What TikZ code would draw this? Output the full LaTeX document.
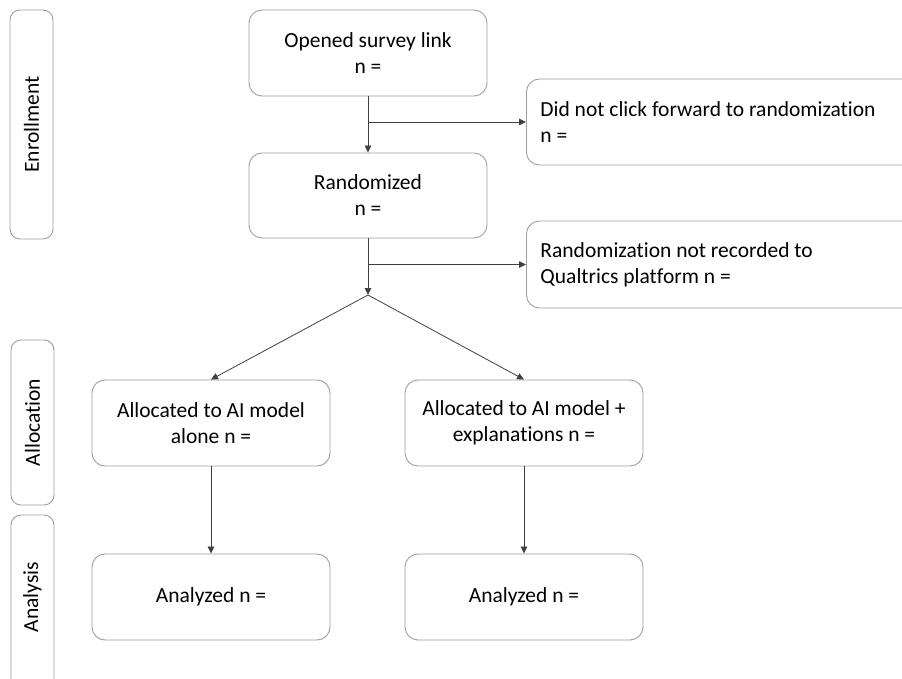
\documentclass[tikz,border=0pt]{standalone}
\usepackage{fontspec}
\setmainfont{Carlito}[Ligatures=NoCommon]
\usetikzlibrary{arrows.meta}

\tikzset{
  box/.style={draw=black!38, line width=0.9pt, rounded corners=13pt,
    minimum width=238pt, minimum height=86pt, inner sep=0pt,
    align=center, text=black, font=\fontsize{21.5}{26}\selectfont},
  sidebox/.style={draw=black!38, line width=0.9pt, rounded corners=10pt,
    minimum width=43pt, inner sep=0pt, text=black,
    font=\fontsize{21.5}{26}\selectfont},
  sidetext/.style={rotate=90, font=\fontsize{21.5}{26}\selectfont, text=black},
  outbox/.style={draw=black!38, line width=0.9pt, rounded corners=13pt,
    anchor=west, minimum width=400pt, text width=372pt, inner xsep=14pt,
    inner ysep=0pt, align=flush left, text=black,
    font=\fontsize{21.5}{26}\selectfont},
  conn/.style={draw=black!75, line width=0.8pt},
  arr/.style={conn, -{Triangle[length=7pt,width=6.5pt]}}
}

\begin{document}
\begin{tikzpicture}[x=1pt,y=-1pt]
\clip (0,0) rectangle (902,679);
\fill[white] (0,0) rectangle (902,679);

% stage labels on the left
\node[sidebox, minimum height=229pt] (enr) at (31.5,124.5) {};
\node[sidetext] (enrtxt) at (enr.center) {Enrollment};
\node[sidebox, minimum height=165pt] (alc) at (32.5,422.5) {};
\node[sidetext] (alctxt) at (alc.center) {Allocation};
\node[sidebox, minimum height=180pt] (ana) at (32.5,605) {};
\node[sidetext] (anatxt) at (32.5,597) {Analysis};

% main flow
\node[box] (open) at (368,53) {Opened survey link\\n =};
\node[box, minimum height=85pt] (rand) at (368,195.5) {Randomized\\n =};

% exclusions on the right
\node[outbox, minimum height=86pt] (ex1) at (526,122)
  {Did not click forward to randomization\\n =};
\node[outbox, minimum height=87pt] (ex2) at (526,264.5)
  {Randomization not recorded to\\Qualtrics platform n =};

% arms
\node[box] (al1) at (211,423) {Allocated to AI model\\alone n =};
\node[box] (al2) at (524,423) {Allocated to AI model +\\explanations n =};
\node[box] (an1) at (211,597) {Analyzed n =};
\node[box] (an2) at (524,597) {Analyzed n =};

\coordinate (split) at (368,295);

% connectors
\draw[arr] (open.south) -- (rand.north);
\draw[arr] (open.south |- ex1.west) -- (ex1.west);
\draw[arr] (rand.south) -- (split);
\draw[arr] (rand.south |- ex2.west) -- (ex2.west);
\draw[arr] (split) -- (al1.north);
\draw[arr] (split) -- (al2.north);
\draw[arr] (al1.south) -- (an1.north);
\draw[arr] (al2.south) -- (an2.north);
\end{tikzpicture}
\end{document}
